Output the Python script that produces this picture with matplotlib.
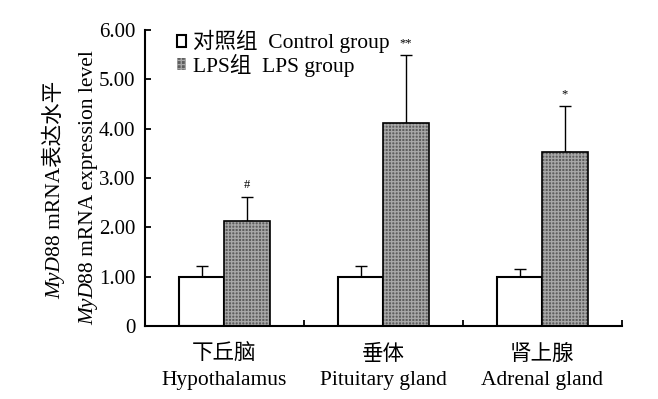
import matplotlib
matplotlib.use("Agg")
import matplotlib.pyplot as plt
import matplotlib.patches as mpatches
import numpy as np

categories_cn = ["下丘脑", "垂体", "肾上腺"]
categories_en = ["Hypothalamus", "Pituitary gland", "Adrenal gland"]
control_mean = [1.00, 1.00, 1.00]
control_err = [0.21, 0.22, 0.15]
lps_mean = [2.12, 4.12, 3.52]
lps_err = [0.50, 1.37, 0.94]
sig_marks = ["#", "**", "*"]
yticks = [0, 1, 2, 3, 4, 5, 6]
ytick_labels = ["0", "1.00", "2.00", "3.00", "4.00", "5.00", "6.00"]
legend_labels = ["对照组  Control group", "LPS组  LPS group"]
ylabel_parts = [("MyD", "88 mRNA表达水平"), ("MyD", "88 mRNA expression level")]

mixed = ["Liberation Serif", "Noto Sans CJK SC"]
plt.rcParams["font.family"] = mixed
plt.rcParams["hatch.linewidth"] = 0.9

FS = 15.5
HATCH_FACE = "#5e5e5e"
HATCH_COL = "#a8a8a8"

fig = plt.figure(figsize=(6.58, 3.99), dpi=100)
ax = fig.add_axes([0.2204, 0.183, 0.7244, 0.742])

x = np.arange(len(categories_cn))
w = 0.285

ax.bar(x - w / 2, control_mean, w, color="white", edgecolor="black", linewidth=1.5, zorder=2)
ax.bar(x + w / 2, lps_mean, w, color=HATCH_FACE, edgecolor=HATCH_COL, hatch="+++++", linewidth=0, zorder=2)
ax.bar(x + w / 2, lps_mean, w, fill=False, edgecolor="black", linewidth=1.2, zorder=3)

ax.errorbar(x - w / 2, control_mean, yerr=[np.zeros(3), control_err], fmt="none",
            ecolor="black", elinewidth=1, capsize=4, capthick=1, zorder=1)
ax.errorbar(x + w / 2, lps_mean, yerr=[np.zeros(3), lps_err], fmt="none",
            ecolor="black", elinewidth=1, capsize=4, capthick=1, zorder=1)

for xi, m, e, s in zip(x, lps_mean, lps_err, sig_marks):
    ax.text(xi + w / 2, m + e + 0.12, s, ha="center", va="bottom", fontsize=9)

ax.set_xlim(-0.5, 2.5)
ax.set_ylim(0, 6)
ax.set_yticks(yticks)
ax.set_yticklabels(ytick_labels, fontsize=15)
ax.set_xticks([0.5, 1.5, 2.5])
ax.set_xticklabels([])
ax.tick_params(axis="both", direction="in", length=4, width=1.3)
ax.tick_params(axis="y", pad=7)
for sp in ["top", "right"]:
    ax.spines[sp].set_visible(False)
for sp in ["left", "bottom"]:
    ax.spines[sp].set_linewidth(1.5)

for xi, cn, en in zip(x, categories_cn, categories_en):
    ax.text(xi, -0.38, cn, ha="center", va="top", fontsize=FS)
    ax.text(xi, -0.92, en, ha="center", va="top", fontsize=FS)

# y labels: italic "MyD" followed by upright text, rotated
renderer = fig.canvas.get_renderer()
label_specs = [(0.0912, 0.525), (0.1413, 0.53)]
for (it, rest), (fx, fyc) in zip(ylabel_parts, label_specs):
    t1 = fig.text(fx, 0, it, rotation=90, rotation_mode="anchor", ha="left", va="baseline",
                  fontsize=FS, style="italic")
    t2 = fig.text(fx, 0, rest, rotation=90, rotation_mode="anchor", ha="left", va="baseline",
                  fontsize=FS)
    h1 = t1.get_window_extent(renderer).height / fig.bbox.height
    h2 = t2.get_window_extent(renderer).height / fig.bbox.height
    y0 = fyc - (h1 + h2) / 2
    t1.set_position((fx, y0))
    t2.set_position((fx, y0 + h1))

h_c = mpatches.Patch(facecolor="white", edgecolor="black", linewidth=1.5)
h_l = mpatches.Patch(facecolor=HATCH_FACE, edgecolor=HATCH_COL, hatch="++++", linewidth=0)
leg = ax.legend([h_c, h_l], legend_labels, loc="upper left",
                bbox_to_anchor=(0.048, 1.028), frameon=False, fontsize=FS, handlelength=0.45,
                handleheight=0.45, handletextpad=0.3, labelspacing=0.0, borderaxespad=0)

fig.savefig("out.png", dpi=100)
